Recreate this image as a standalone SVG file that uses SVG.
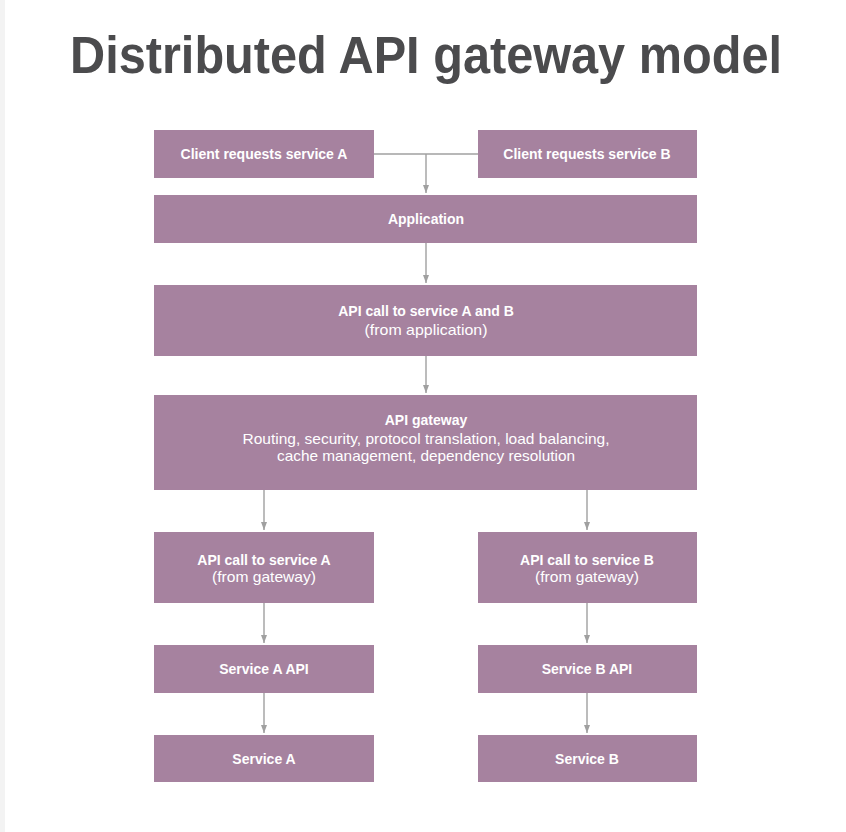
<svg xmlns="http://www.w3.org/2000/svg" width="846" height="832" viewBox="0 0 846 832">
<defs>
<style>
.box{fill:#a6829f}
.t{font-family:"Liberation Sans",Arial,sans-serif;font-size:14px;fill:#ffffff;text-anchor:middle}
.b{font-weight:bold}
.n{font-size:14.5px}
.c{stroke:#a0a0a0;stroke-width:1.4;fill:none}
.title{font-family:"Liberation Sans",Arial,sans-serif;font-weight:bold;font-size:51px;fill:#4b4b4d}
</style>
<marker id="ah" viewBox="0 0 8 6" refX="8" refY="3" markerWidth="8" markerHeight="6" markerUnits="userSpaceOnUse" orient="auto">
<path d="M0,0 L8,3 L0,6 Z" fill="#a0a0a0"/>
</marker>
</defs>
<rect width="846" height="832" fill="#ffffff"/>
<rect x="0" y="0" width="5" height="832" fill="#f3f3f3"/>
<text class="title" x="70" y="73" textLength="712" lengthAdjust="spacingAndGlyphs">Distributed API gateway model</text>
<g id="connectors">
<path class="c" d="M374,154 H478"/>
<path class="c" d="M426,154 V193" marker-end="url(#ah)"/>
<path class="c" d="M426,243 V283" marker-end="url(#ah)"/>
<path class="c" d="M426,356 V393" marker-end="url(#ah)"/>
<path class="c" d="M264,490 V530" marker-end="url(#ah)"/>
<path class="c" d="M587,490 V530" marker-end="url(#ah)"/>
<path class="c" d="M264,603 V643" marker-end="url(#ah)"/>
<path class="c" d="M587,603 V643" marker-end="url(#ah)"/>
<path class="c" d="M264,693 V733" marker-end="url(#ah)"/>
<path class="c" d="M587,693 V733" marker-end="url(#ah)"/>
</g>
<g id="clientA"><rect class="box" x="154" y="130" width="220" height="48"/><text class="t b" x="264" y="159">Client requests service A</text></g>
<g id="clientB"><rect class="box" x="478" y="130" width="219" height="48"/><text class="t b" x="587" y="159">Client requests service B</text></g>
<g id="application"><rect class="box" x="154" y="195" width="543" height="48"/><text class="t b" x="426" y="224">Application</text></g>
<g id="apiCallAB"><rect class="box" x="154" y="285" width="543" height="71"/><text class="t b" x="426" y="316">API call to service A and B</text><text class="t n" x="426" y="335" textLength="123" lengthAdjust="spacingAndGlyphs">(from application)</text></g>
<g id="gateway"><rect class="box" x="154" y="395" width="543" height="95"/><text class="t b" x="426" y="425">API gateway</text><text class="t n" x="426" y="444" textLength="367" lengthAdjust="spacingAndGlyphs">Routing, security, protocol translation, load balancing,</text><text class="t n" x="426" y="461" textLength="298" lengthAdjust="spacingAndGlyphs">cache management, dependency resolution</text></g>
<g id="apiCallA"><rect class="box" x="154" y="532" width="220" height="71"/><text class="t b" x="264" y="565">API call to service A</text><text class="t n" x="264" y="582" textLength="104" lengthAdjust="spacingAndGlyphs">(from gateway)</text></g>
<g id="apiCallB"><rect class="box" x="478" y="532" width="219" height="71"/><text class="t b" x="587" y="565">API call to service B</text><text class="t n" x="587" y="582" textLength="104" lengthAdjust="spacingAndGlyphs">(from gateway)</text></g>
<g id="serviceAAPI"><rect class="box" x="154" y="645" width="220" height="48"/><text class="t b" x="264" y="674">Service A API</text></g>
<g id="serviceBAPI"><rect class="box" x="478" y="645" width="219" height="48"/><text class="t b" x="587" y="674">Service B API</text></g>
<g id="serviceA"><rect class="box" x="154" y="735" width="220" height="47"/><text class="t b" x="264" y="764">Service A</text></g>
<g id="serviceB"><rect class="box" x="478" y="735" width="219" height="47"/><text class="t b" x="587" y="764">Service B</text></g>
</svg>
